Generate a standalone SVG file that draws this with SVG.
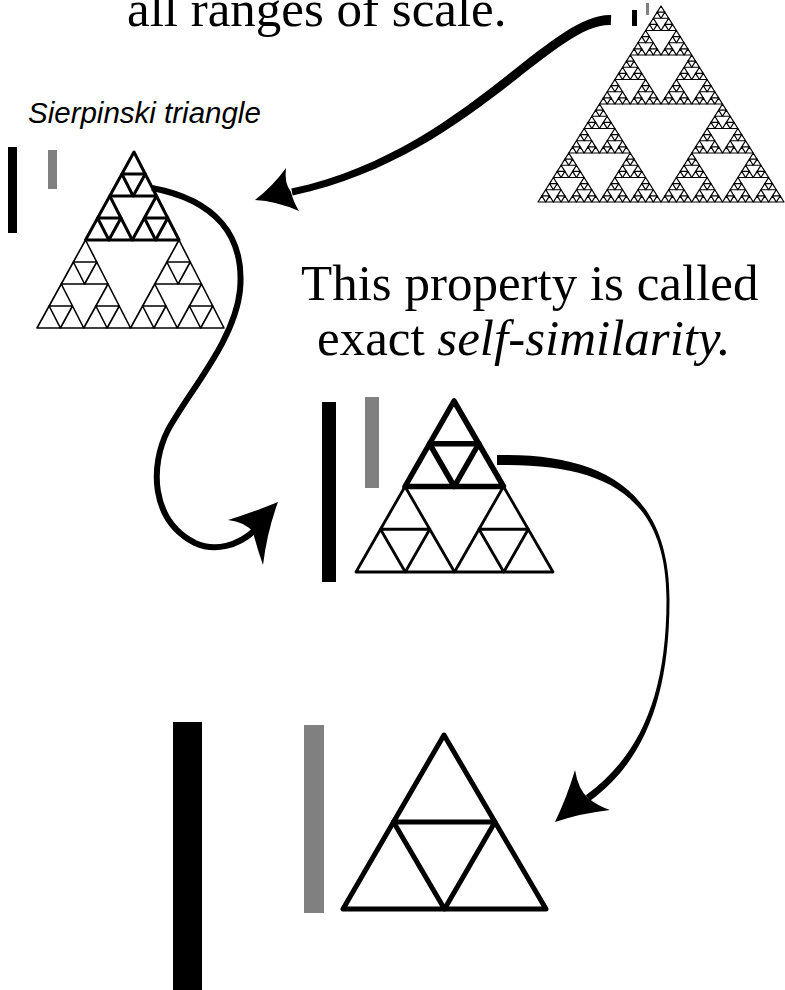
<svg xmlns="http://www.w3.org/2000/svg" width="785" height="990" viewBox="0 0 785 990">
<style>
.serif{font-family:"Liberation Serif","Times New Roman",serif;font-size:51px;fill:#000}
.label{font-family:"Liberation Sans",Arial,sans-serif;font-size:29.5px;font-style:italic;fill:#000}
.sier{fill:none;stroke:#000;stroke-linejoin:round;stroke-linecap:round}
.bk{fill:#000}
.gr{fill:#808080}
.arrow{fill:#000}
.shaft{fill:none;stroke:#000}
</style>
<defs>
<path id="t0" d="M0.5,0 L0,1 L1,1 Z" vector-effect="non-scaling-stroke"/>
<g id="t1"><use href="#t0" transform="translate(0.25,0) scale(0.5)"/><use href="#t0" transform="translate(0,0.5) scale(0.5)"/><use href="#t0" transform="translate(0.5,0.5) scale(0.5)"/></g>
<g id="t2"><use href="#t1" transform="translate(0.25,0) scale(0.5)"/><use href="#t1" transform="translate(0,0.5) scale(0.5)"/><use href="#t1" transform="translate(0.5,0.5) scale(0.5)"/></g>
<g id="t3"><use href="#t2" transform="translate(0.25,0) scale(0.5)"/><use href="#t2" transform="translate(0,0.5) scale(0.5)"/><use href="#t2" transform="translate(0.5,0.5) scale(0.5)"/></g>
<g id="t4"><use href="#t3" transform="translate(0.25,0) scale(0.5)"/><use href="#t3" transform="translate(0,0.5) scale(0.5)"/><use href="#t3" transform="translate(0.5,0.5) scale(0.5)"/></g>
<g id="t5"><use href="#t4" transform="translate(0.25,0) scale(0.5)"/><use href="#t4" transform="translate(0,0.5) scale(0.5)"/><use href="#t4" transform="translate(0.5,0.5) scale(0.5)"/></g>
</defs>
<rect width="785" height="990" fill="#fff"/>

<g id="title-top">
<text class="serif" x="127" y="26">all ranges of scale.</text>
</g>

<g id="title-middle">
<text class="serif" x="301" y="300">This property is called</text>
<text class="serif" x="317" y="355">exact <tspan font-style="italic">self-similarity.</tspan></text>
</g>

<g id="label-sierpinski">
<text class="label" x="28" y="123">Sierpinski triangle</text>
</g>

<g id="fig-large">
<rect class="bk" x="632" y="10" width="5" height="16"/>
<rect class="gr" x="646" y="3" width="3" height="12"/>
<use href="#t5" class="sier" stroke-width="1.2" transform="matrix(246,0,0,196,538,6)"/>
</g>

<g id="fig-level3">
<rect class="bk" x="8" y="147" width="9" height="86"/>
<rect class="gr" x="48" y="150" width="9" height="39"/>
<use href="#t3" class="sier" stroke-width="1.6" transform="matrix(187,0,-3.5,176,40.5,152)"/>
<use href="#t2" class="sier" stroke-width="3" transform="matrix(187,0,-3.5,176,40.5,152) translate(0.25,0) scale(0.5)"/>
</g>

<g id="fig-level2">
<rect class="bk" x="322" y="402" width="14" height="180"/>
<rect class="gr" x="365" y="397" width="14" height="91"/>
<use href="#t2" class="sier" stroke-width="2.8" transform="matrix(197,0,0.5,171,355.5,401)"/>
<use href="#t1" class="sier" stroke-width="5.5" transform="matrix(197,0,0.5,171,355.5,401) translate(0.25,0) scale(0.5)"/>
</g>

<g id="fig-level1">
<rect class="bk" x="173" y="722" width="29" height="268"/>
<rect class="gr" x="304" y="725" width="20" height="188"/>
<use href="#t1" class="sier" stroke-width="5" transform="matrix(203,0,0.5,174,342.5,735)"/>
</g>

<g id="connectors">
<g id="arrow-large-to-level3">
<path class="arrow" d="M611.2,15 C548.2,12.9 461.9,152.1 291.3,188.6 L292.7,195.4 C468.3,157.9 551.8,23.1 610.8,25 Z"/>
<path class="arrow" d="M255,200 Q273,186 286,168 Q284,183 291,192 Q293,201 299,211 Q276,201 255,200 Z"/>
</g>
<g id="arrow-level3-to-level2">
<path class="shaft" stroke-width="6" d="M152,188 C215,200 245,235 240,290 C235,340 190,390 168,430 C150,465 150,520 195,543 C215,552 238,546 255,530"/>
<path class="arrow" d="M278,502 Q251,513 228,520 Q245,522 253,532 Q257,548 263,565 Q267,532 278,502 Z"/>
</g>
<g id="arrow-level2-to-level1">
<path class="arrow" d="M497,455 C597.8,453 669.5,486.8 669.5,600 C669.5,702.8 641.2,763.5 590.1,800.8 L585.9,795.2 C638.8,756.6 666.5,697.2 666.5,600 C666.5,493.2 602.2,463 497,465 Z"/>
<path class="arrow" d="M555,822 Q567,797 575,770 Q578,789 588,798 Q598,806 610,810 Q582,813 555,822 Z"/>
</g>
</g>
</svg>
